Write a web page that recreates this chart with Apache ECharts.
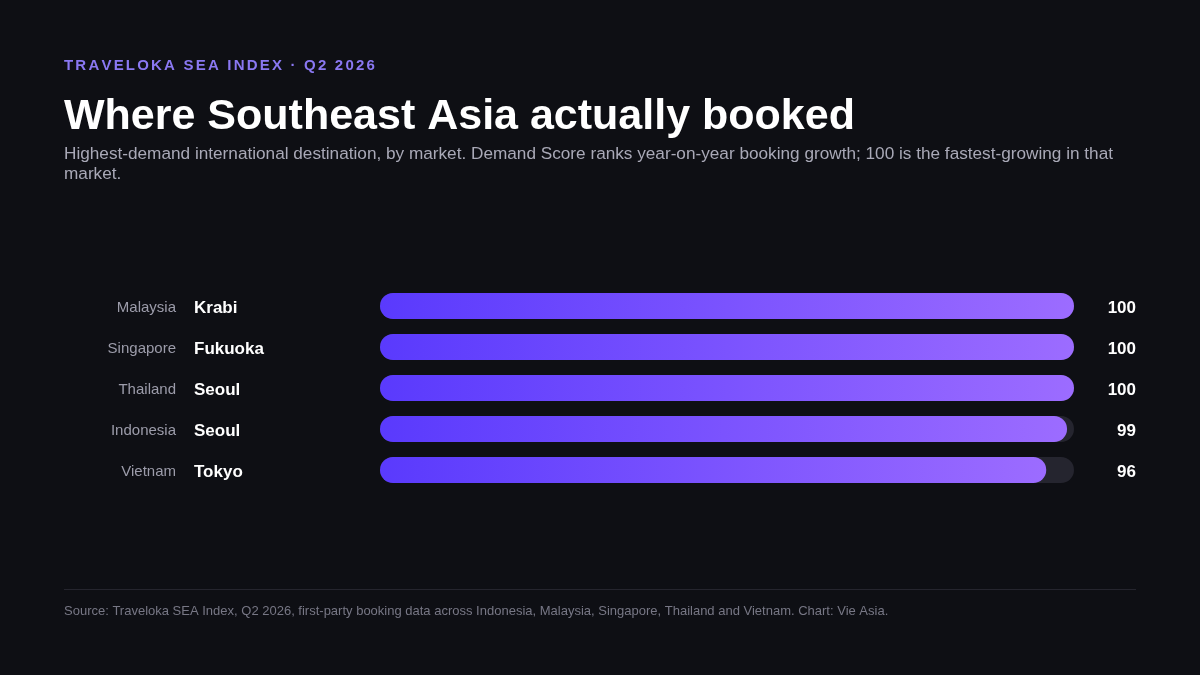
<!DOCTYPE html>
<html>
<head>
<meta charset="utf-8">
<script src="https://cdn.jsdelivr.net/npm/echarts@6/dist/echarts.min.js"></script>
<style>
html,body{margin:0;padding:0;background:#0e0f14;}
#chart{width:1200px;height:675px;}
</style>
</head>
<body>
<div id="chart"></div>
<script>
const markets = ['Malaysia', 'Singapore', 'Thailand', 'Indonesia', 'Vietnam'];
const destinations = ['Krabi', 'Fukuoka', 'Seoul', 'Seoul', 'Tokyo'];
const scores = [100, 100, 100, 99, 96];

const kicker = 'TRAVELOKA SEA INDEX · Q2 2026';
const titleText = 'Where Southeast Asia actually booked';
const subtitleText = 'Highest-demand international destination, by market. Demand Score ranks year-on-year booking growth; 100 is the fastest-growing in that market.';
const sourceText = 'Source: Traveloka SEA Index, Q2 2026, first-party booking data across Indonesia, Malaysia, Singapore, Thailand and Vietnam. Chart: Vie Asia.';

const FONT = '"Liberation Sans", Arial, Helvetica, sans-serif';

// letter-spaced kicker built from individual characters
function spacedText(str, x, y, font, spacing, color) {
  const c = document.createElement('canvas').getContext('2d');
  c.font = font;
  const els = [];
  let cx = x;
  for (const ch of str) {
    els.push({type: 'text', x: cx, y: y, silent: true,
      style: {text: ch, font: font, fill: color, textVerticalAlign: 'middle'}});
    cx += c.measureText(ch).width + spacing;
  }
  return els;
}

const axisBase = {
  type: 'category', inverse: true,
  axisLine: {show: false}, axisTick: {show: false}, splitLine: {show: false}
};

const chart = echarts.init(document.getElementById('chart'));
const option = {
  backgroundColor: '#0e0f14',
  animation: false,
  grid: {left: 380, right: 126, top: 285.5, height: 205},
  xAxis: {type: 'value', min: 0, max: 100, show: false},
  yAxis: [
    Object.assign({}, axisBase, {
      data: markets, position: 'left',
      axisLabel: {margin: 204, align: 'right', verticalAlign: 'top', lineHeight: 4, color: '#9c9caa', fontSize: 15, fontFamily: FONT}
    }),
    Object.assign({}, axisBase, {
      data: destinations, position: 'left',
      axisLabel: {margin: 186, align: 'left', verticalAlign: 'top', lineHeight: 4, color: '#ffffff', fontSize: 17, fontWeight: 'bold', fontFamily: FONT}
    }),
    Object.assign({}, axisBase, {
      data: scores.map(String), position: 'right',
      axisLabel: {margin: 62, align: 'right', verticalAlign: 'top', lineHeight: 4, color: '#ffffff', fontSize: 17, fontWeight: 'bold', fontFamily: FONT}
    })
  ],
  series: [{
    type: 'bar', data: scores, barWidth: 26, yAxisIndex: 0,
    showBackground: true,
    backgroundStyle: {color: '#25252f', borderRadius: 13},
    itemStyle: {
      borderRadius: 13,
      color: new echarts.graphic.LinearGradient(0, 0, 1, 0, [
        {offset: 0, color: '#5a3afd'},
        {offset: 1, color: '#9c6cff'}
      ])
    }
  }],
  graphic: [
    ...spacedText(kicker, 64, 66, 'bold 15px ' + FONT, 2.2, '#8a78f2'),
    {type: 'text', left: 64, top: 95.5, silent: true,
      style: {text: titleText, font: 'bold 43px ' + FONT, fill: '#ffffff'}},
    {type: 'text', left: 64, top: 144.5, silent: true,
      style: {text: subtitleText, font: '17.2px ' + FONT, fill: '#a9a9b7', width: 1072, overflow: 'break', lineHeight: 20}},
    {type: 'line', silent: true, shape: {x1: 64, y1: 589.5, x2: 1136, y2: 589.5},
      style: {stroke: '#25252e', lineWidth: 1}},
    {type: 'text', left: 64, top: 604.5, silent: true,
      style: {text: sourceText, font: '13px ' + FONT, fill: '#777785'}}
  ]
};
chart.setOption(option);
</script>
</body>
</html>
